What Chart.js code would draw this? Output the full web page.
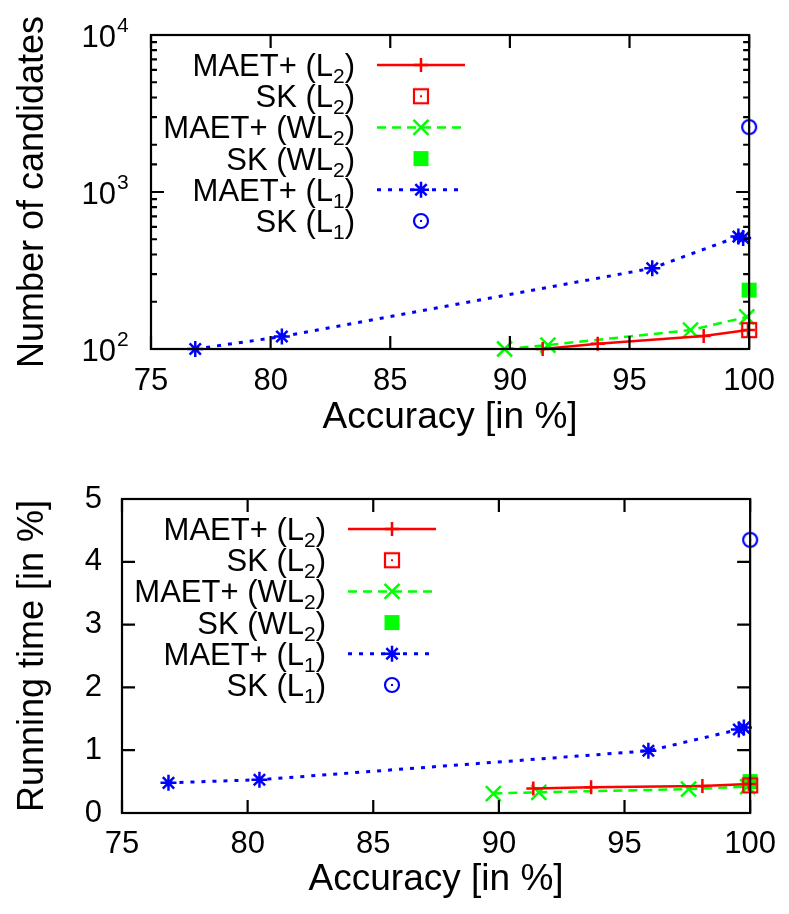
<!DOCTYPE html>
<html>
<head>
<meta charset="utf-8">
<script src="https://cdn.jsdelivr.net/npm/chart.js@4.4.1/dist/chart.umd.min.js"></script>
<style>
  html, body { margin: 0; padding: 0; background: #fff; }
  .wrap { position: absolute; left: 0; width: 789px; height: 457px; }
</style>
</head>
<body>
<div class="wrap" style="top:0"><canvas id="chart-cand" width="789" height="457"></canvas></div>
<div class="wrap" style="top:457px"><canvas id="chart-time" width="789" height="457"></canvas></div>
<script>
// accuracy (x) per series
const accMaetL2 = [91.37, 93.67, 98.1, 99.95];
const accMaetWL2 = [89.78, 91.59, 97.55, 99.9];
const accMaetL1 = [76.85, 80.47, 95.95, 99.55, 99.75];
const accSk = [100];

// number of candidates (top chart)
const candMaetL2 = [100, 108, 121, 132];
const candSkL2 = [132];
const candMaetWL2 = [100, 106, 132, 160];
const candSkWL2 = [237];
const candMaetL1 = [100, 120, 327, 520, 510];
const candSkL1 = [2590];

// running time (bottom chart)
const timeMaetL2 = [0.39, 0.41, 0.43, 0.46];
const timeSkL2 = [0.44];
const timeMaetWL2 = [0.31, 0.33, 0.38, 0.42];
const timeSkWL2 = [0.5];
const timeMaetL1 = [0.48, 0.53, 0.99, 1.33, 1.36];
const timeSkL1 = [4.35];

const seriesNames = ['MAET+ (L_2)', 'SK (L_2)', 'MAET+ (WL_2)', 'SK (WL_2)', 'MAET+ (L_1)', 'SK (L_1)'];
const accTicks = [75, 80, 85, 90, 95, 100];
const candTicks = [100, 1000, 10000];
const timeTicks = [0, 1, 2, 3, 4, 5];

const FONT = "'Liberation Sans', Arial, Helvetica, sans-serif";
Chart.defaults.font.family = FONT;
Chart.defaults.color = '#000';

// hollow markers with a dot in the middle (gnuplot style)
function markerImg(kind, color) {
  const c = document.createElement('canvas');
  c.width = 18; c.height = 18;
  const g = c.getContext('2d');
  g.strokeStyle = color; g.fillStyle = color; g.lineWidth = 2.2;
  if (kind === 'box') {
    g.strokeRect(2, 2, 14, 14);
  } else {
    g.beginPath(); g.arc(9, 9, 7, 0, Math.PI * 2); g.stroke();
  }
  g.fillRect(8, 8, 2, 2);
  return c;
}

const styles = [
  { color: '#ff0000', line: true, dash: [], width: 2.5, point: 'cross', r: 7 },
  { color: '#ff0000', line: false, point: markerImg('box', '#ff0000'), r: 9 },
  { color: '#00ff00', line: true, dash: [9, 6], width: 2.5, point: 'crossRot', r: 10.6 },
  { color: '#00ff00', line: false, point: 'rect', r: 10.6, fill: true },
  { color: '#0000ff', line: true, dash: [4, 7], width: 3, point: 'star', r: 8 },
  { color: '#0000ff', line: false, point: markerImg('circle', '#0000ff'), r: 9 }
];

function pts(xs, ys) {
  return xs.map((x, i) => ({ x: x, y: ys[i] }));
}

function makeSets(ys) {
  const xs = [accMaetL2, accSk, accMaetWL2, accSk, accMaetL1, accSk];
  return ys.map((y, i) => {
    const st = styles[i];
    return {
      label: seriesNames[i],
      data: pts(xs[i], y),
      showLine: st.line,
      borderColor: st.color,
      borderWidth: st.width || 0,
      borderDash: st.dash || [],
      backgroundColor: st.color,
      pointStyle: st.point,
      pointRadius: st.r,
      pointBorderColor: st.color,
      pointBackgroundColor: st.fill ? st.color : 'rgba(0,0,0,0)',
      pointBorderWidth: st.fill ? 0 : 2.5,
      tension: 0,
      clip: false
    };
  });
}

function isPow10(v) {
  const l = Math.log10(v);
  return Math.abs(l - Math.round(l)) < 1e-9;
}

function drawMark(ctx, st, x, y) {
  ctx.save();
  ctx.setLineDash([]);
  ctx.strokeStyle = st.color; ctx.fillStyle = st.color; ctx.lineWidth = 2.5;
  const r = st.r;
  const d = r * Math.SQRT1_2;
  ctx.beginPath();
  if (st.point === 'cross' || st.point === 'star') {
    ctx.moveTo(x - r, y); ctx.lineTo(x + r, y);
    ctx.moveTo(x, y - r); ctx.lineTo(x, y + r);
  }
  if (st.point === 'crossRot' || st.point === 'star') {
    ctx.moveTo(x - d, y - d); ctx.lineTo(x + d, y + d);
    ctx.moveTo(x - d, y + d); ctx.lineTo(x + d, y - d);
  }
  ctx.stroke();
  if (st.point === 'rect') ctx.fillRect(x - d, y - d, 2 * d, 2 * d);
  if (typeof st.point === 'object') ctx.drawImage(st.point, x - st.point.width / 2, y - st.point.height / 2);
  ctx.restore();
}

// right aligned label with subscript part after "_"
function drawLabel(ctx, text, right, y) {
  const m = text.match(/^(.*)_(\w)(.*)$/);
  const a = m[1], s = m[2], b = m[3];
  const big = '31px ' + FONT, small = '21px ' + FONT;
  ctx.font = big; const wa = ctx.measureText(a).width, wb = ctx.measureText(b).width;
  ctx.font = small; const ws = ctx.measureText(s).width;
  let x = right - (wa + ws + wb);
  ctx.textAlign = 'left'; ctx.textBaseline = 'alphabetic';
  ctx.font = big; ctx.fillText(a, x, y + 11); x += wa;
  ctx.font = small; ctx.fillText(s, x, y + 18); x += ws;
  ctx.font = big; ctx.fillText(b, x, y + 11);
}

const gnuFrame = {
  id: 'gnuFrame',
  afterDatasetsDraw(chart, args, opts) {
    const { ctx, chartArea: a, scales } = chart;
    ctx.save();
    ctx.strokeStyle = '#000';
    ctx.lineWidth = 2.2;
    ctx.setLineDash([]);
    ctx.beginPath();
    scales.x.ticks.forEach(t => {
      const px = scales.x.getPixelForValue(t.value);
      ctx.moveTo(px, a.bottom); ctx.lineTo(px, a.bottom - 13);
      ctx.moveTo(px, a.top); ctx.lineTo(px, a.top + 13);
    });
    scales.y.ticks.forEach(t => {
      const py = scales.y.getPixelForValue(t.value);
      const len = (opts.log && !isPow10(t.value)) ? 6 : 13;
      ctx.moveTo(a.left, py); ctx.lineTo(a.left + len, py);
      ctx.moveTo(a.right, py); ctx.lineTo(a.right - len, py);
    });
    ctx.stroke();
    ctx.strokeRect(a.left, a.top, a.right - a.left, a.bottom - a.top);

    // 10^n labels for the log axis
    if (opts.log) {
      ctx.fillStyle = '#000';
      candTicks.forEach(v => {
        const py = scales.y.getPixelForValue(v);
        ctx.font = '31px ' + FONT;
        ctx.textAlign = 'right'; ctx.textBaseline = 'middle';
        ctx.fillText('10', a.left - 35, py + 3);
        ctx.font = '21px ' + FONT;
        ctx.textAlign = 'left';
        ctx.fillText(String(Math.round(Math.log10(v))), a.left - 34, py - 9);
      });
    }

    // gnuplot style key
    ctx.fillStyle = '#000';
    chart.data.datasets.forEach((ds, i) => {
      const st = styles[i];
      const y = a.top + 30 + i * 31.2;
      drawLabel(ctx, ds.label, a.left + 204, y);
      if (st.line) {
        ctx.save();
        ctx.strokeStyle = st.color; ctx.lineWidth = st.width;
        ctx.setLineDash(st.dash);
        ctx.beginPath(); ctx.moveTo(a.left + 226, y); ctx.lineTo(a.left + 314, y); ctx.stroke();
        ctx.restore();
      }
      drawMark(ctx, st, a.left + 270, y);
    });
    ctx.restore();
  }
};

function xScale(xHeight, pad, titlePad) {
  return {
    type: 'linear', min: 75, max: 100,
    grid: { display: false, drawTicks: false },
    border: { display: false },
    afterBuildTicks: s => { s.ticks = accTicks.map(v => ({ value: v })); },
    ticks: { font: { size: 31 }, padding: pad, maxRotation: 0 },
    title: { display: true, text: 'Accuracy [in %]', font: { size: 37 }, padding: { top: 0, bottom: titlePad } },
    afterFit: s => { s.height = xHeight; }
  };
}

new Chart(document.getElementById('chart-cand'), {
  type: 'scatter',
  data: { datasets: makeSets([candMaetL2, candSkL2, candMaetWL2, candSkWL2, candMaetL1, candSkL1]) },
  options: {
    responsive: false,
    animation: false,
    layout: { padding: { left: 0, right: 32, top: 35, bottom: 0 }, autoPadding: false },
    plugins: { legend: { display: false }, tooltip: { enabled: false }, gnuFrame: { log: true } },
    scales: {
      x: xScale(108, 14, 17),
      y: {
        type: 'logarithmic', min: 100, max: 10000,
        grid: { display: false, drawTicks: false },
        border: { display: false },
        ticks: { display: false },
        title: { display: true, text: 'Number of candidates', font: { size: 36 }, padding: { top: 11, bottom: 0 } },
        afterFit: s => { s.width = 151; }
      }
    }
  },
  plugins: [gnuFrame]
});

new Chart(document.getElementById('chart-time'), {
  type: 'scatter',
  data: { datasets: makeSets([timeMaetL2, timeSkL2, timeMaetWL2, timeSkWL2, timeMaetL1, timeSkL1]) },
  options: {
    responsive: false,
    animation: false,
    layout: { padding: { left: 0, right: 32, top: 42, bottom: 0 }, autoPadding: false },
    plugins: { legend: { display: false }, tooltip: { enabled: false }, gnuFrame: { log: false } },
    scales: {
      x: xScale(101, 13, 12),
      y: {
        type: 'linear', min: 0, max: 5,
        grid: { display: false, drawTicks: false },
        border: { display: false },
        afterBuildTicks: s => { s.ticks = timeTicks.map(v => ({ value: v })); },
        ticks: { font: { size: 31 }, padding: 20 },
        title: { display: true, text: 'Running time [in %]', font: { size: 36 }, padding: { top: 11, bottom: 0 } },
        afterFit: s => { s.width = 122; }
      }
    }
  },
  plugins: [gnuFrame]
});
</script>
</body>
</html>
